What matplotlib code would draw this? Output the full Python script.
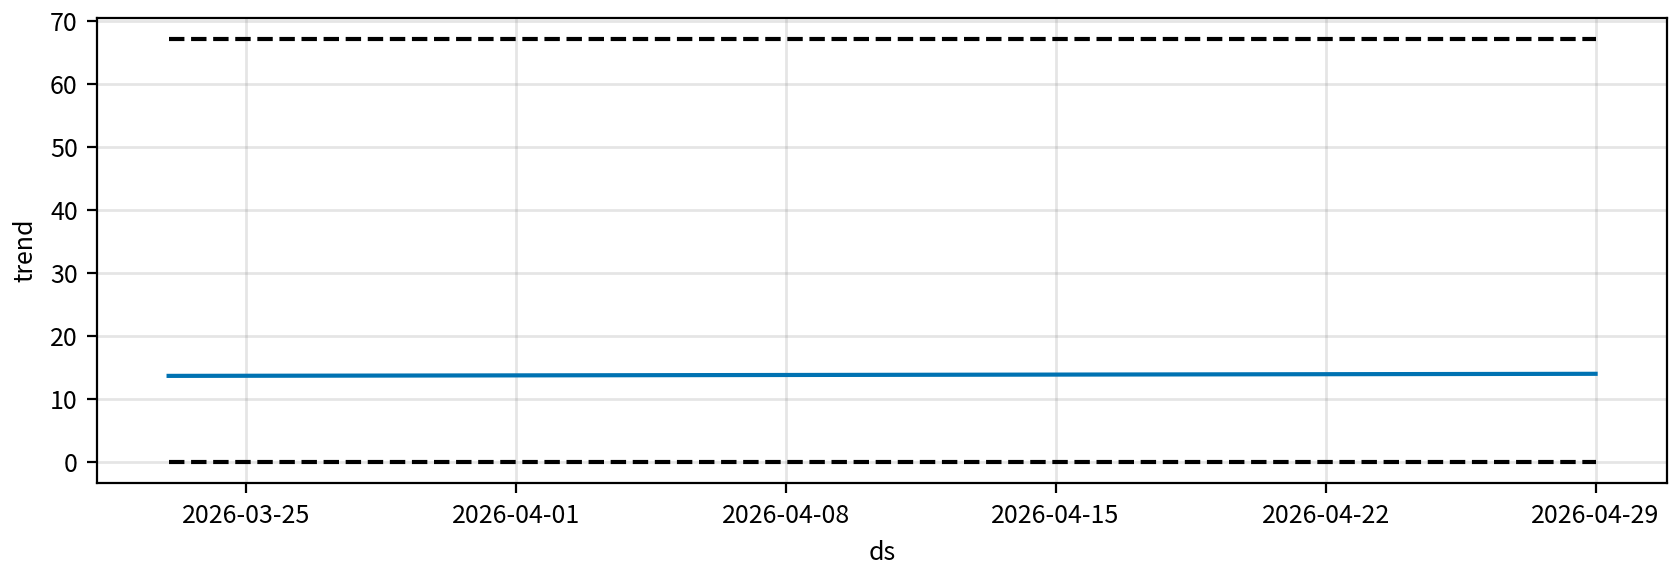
import numpy as np
import pandas as pd
import matplotlib
matplotlib.use("Agg")
import matplotlib.pyplot as plt
import matplotlib.dates as mdates

plt.rcParams['font.family'] = ['Noto Sans CJK JP', 'DejaVu Sans']
plt.rcParams['font.size'] = 9

# trend component (linear between first and last date)
ds = pd.to_datetime(["2026-03-23", "2026-04-29"])
trend = [13.67, 14.0]
cap = [67.15, 67.15]
floor = [0.0, 0.0]

tick_dates = pd.to_datetime(["2026-03-25", "2026-04-01", "2026-04-08",
                             "2026-04-15", "2026-04-22", "2026-04-29"])

fig, ax = plt.subplots(figsize=(8.385, 2.825), dpi=200)
fig.subplots_adjust(left=0.058, right=0.994, top=0.968, bottom=0.145)

ax.plot(ds, trend, ls='-', c='#0072B2')
ax.plot(ds, cap, ls='--', c='k')
ax.plot(ds, floor, ls='--', c='k')

ax.grid(True, which='major', c='gray', ls='-', lw=1, alpha=0.2)
ax.set_xticks(tick_dates)
ax.xaxis.set_major_formatter(mdates.DateFormatter('%Y-%m-%d'))
ax.set_xlabel('ds')
ax.set_ylabel('trend')

fig.savefig('out.png', dpi=200)
